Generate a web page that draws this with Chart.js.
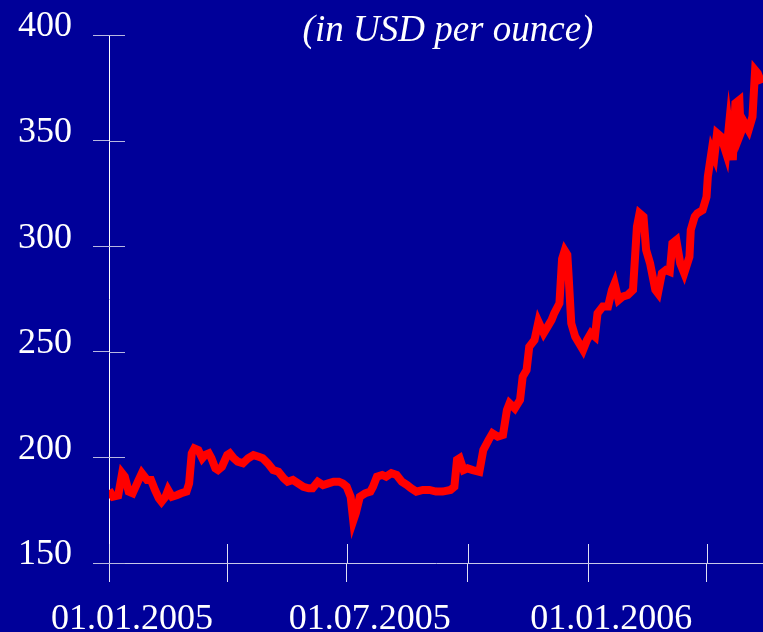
<!DOCTYPE html>
<html>
<head>
<meta charset="utf-8">
<script src="https://cdn.jsdelivr.net/npm/chart.js@4.4.1/dist/chart.umd.min.js"></script>
<style>
  html, body { margin: 0; padding: 0; background: #000099; }
  #wrap { width: 763px; height: 632px; position: relative; }
</style>
</head>
<body>
<div id="wrap"><canvas id="priceChart"></canvas></div>
<script>
// days counted from 01.01.2005
const dayOffsets = [
    0, 3, 7, 10, 12, 15, 18, 22, 25, 29, 32, 35, 38, 40, 43, 45, 48, 52, 55, 59,
    61, 63, 65, 68, 71, 73, 76, 78, 81, 83, 86, 90, 92, 95, 98, 102, 106, 110, 114, 117,
    121, 125, 129, 133, 136, 140, 144, 148, 152, 155, 159, 163, 167, 171, 175, 178, 181, 184, 186, 188,
    191, 195, 199, 201, 204, 208, 211, 215, 219, 223, 227, 230, 234, 239, 244, 249, 254, 260, 263, 265,
    267, 270, 273, 277, 282, 285, 289, 292, 296, 300, 303, 305, 309, 313, 315, 318, 320, 324, 327, 331,
    334, 337, 339, 343, 345, 347, 349, 350, 352, 355, 358, 361, 364, 367, 370, 372, 376, 380, 383, 385,
    388, 391, 395, 399, 402, 404, 407, 409, 412, 416, 418, 421, 424, 427, 429, 432, 435, 438, 442, 443,
    446, 448, 452, 455, 456, 459, 461, 463, 466, 470, 472, 475, 477, 480, 481, 484, 487, 490, 492, 494,
    497
];
const prices = [
    184.6, 181.4, 182.0, 192.5, 190.9, 183.8, 183.0, 188.5, 192.5, 189.3, 189.3, 184.6, 180.6, 179.0, 181.4, 184.6, 181.4, 182.2, 183.0, 183.8,
    187.7, 201.9, 204.3, 203.5, 199.6, 201.1, 201.9, 199.6, 194.8, 194.0, 195.6, 201.1, 201.9, 199.6, 198.0, 197.2, 199.6, 201.1, 200.3, 199.6,
    197.2, 194.0, 193.2, 190.1, 188.5, 189.3, 187.7, 186.1, 185.4, 185.4, 188.5, 186.9, 187.7, 188.5, 188.5, 187.7, 186.1, 181.4, 170.0, 173.7,
    181.4, 183.0, 183.8, 186.1, 190.9, 191.7, 190.9, 192.5, 191.7, 188.5, 186.9, 185.4, 183.8, 184.6, 184.6, 183.8, 183.8, 184.6, 186.1, 198.8,
    199.6, 194.0, 194.8, 194.0, 193.2, 203.5, 208.2, 211.4, 209.8, 210.6, 222.4, 225.6, 223.2, 227.2, 238.2, 241.4, 252.4, 255.6, 264.3, 258.8,
    261.9, 265.1, 268.2, 273.0, 294.0, 298.0, 296.0, 285.6, 263.5, 257.2, 254.0, 250.9, 255.6, 258.8, 257.2, 268.2, 271.4, 271.4, 279.3, 282.4,
    274.5, 276.1, 276.9, 279.3, 309.2, 315.6, 314.0, 298.2, 291.9, 279.3, 277.7, 287.2, 288.7, 287.9, 301.4, 302.9, 291.9, 287.2, 295.0, 307.7,
    314.0, 315.6, 317.1, 323.4, 332.9, 345.5, 342.4, 353.5, 351.9, 344.0, 356.6, 340.8, 367.7, 369.2, 353.5, 358.3, 355.0, 361.3, 383.4, 381.9,
    377.1
];
const tickDays = [0, 90, 181, 273, 365, 455];
const tickLabels = ['01.01.2005', '', '01.07.2005', '', '01.01.2006', ''];
const yTicks = [150, 200, 250, 300, 350, 400];

const bgColor = '#000099';
const lineColor = '#ff0000';
const yTickColor = '#b8b8e0';
const xTickColor = '#e0e0f4';
const serif = '"Liberation Serif", "Times New Roman", serif';

// draws the part of each tick mark that reaches inside the plot
const innerTicks = {
    id: 'innerTicks',
    afterDatasetsDraw(chart) {
        const { ctx, chartArea, scales } = chart;
        ctx.save();
        ctx.lineWidth = 1;
        ctx.strokeStyle = yTickColor;
        scales.y.ticks.forEach(t => {
            const py = Math.round(scales.y.getPixelForValue(t.value)) + 0.5;
            ctx.beginPath();
            ctx.moveTo(chartArea.left, py);
            ctx.lineTo(chartArea.left + 16, py);
            ctx.stroke();
        });
        ctx.strokeStyle = xTickColor;
        scales.x.ticks.forEach(t => {
            const px = Math.round(scales.x.getPixelForValue(t.value)) + 0.5;
            ctx.beginPath();
            ctx.moveTo(px, chartArea.bottom);
            ctx.lineTo(px, chartArea.bottom - 19);
            ctx.stroke();
        });
        ctx.restore();
    }
};

const subtitle = {
    id: 'subtitle',
    afterDraw(chart) {
        const ctx = chart.ctx;
        ctx.save();
        ctx.font = 'italic 37px ' + serif;
        ctx.fillStyle = '#ffffff';
        ctx.textAlign = 'center';
        ctx.textBaseline = 'alphabetic';
        ctx.fillText('(in USD per ounce)', 448, 41);
        ctx.restore();
    }
};

const bgFill = {
    id: 'bgFill',
    beforeDraw(chart) {
        const ctx = chart.ctx;
        ctx.save();
        ctx.fillStyle = bgColor;
        ctx.fillRect(0, 0, chart.width, chart.height);
        ctx.restore();
    }
};

new Chart(document.getElementById('priceChart'), {
    type: 'line',
    data: {
        datasets: [{
            data: dayOffsets.map((d, i) => ({ x: d, y: prices[i] })),
            borderColor: lineColor,
            borderWidth: 8,
            pointRadius: 0,
            tension: 0,
            borderJoinStyle: 'miter'
        }]
    },
    options: {
        responsive: true,
        maintainAspectRatio: false,
        animation: false,
        layout: { padding: { top: 35, right: 0, bottom: 0, left: 0 } },
        plugins: {
            legend: { display: false },
            tooltip: { enabled: false }
        },
        scales: {
            x: {
                type: 'linear',
                min: 0,
                max: 498,
                afterBuildTicks: scale => { scale.ticks = tickDays.map(v => ({ value: v })); },
                afterFit: scale => { scale.height = 69; scale.paddingLeft = 0; scale.paddingRight = 0; },
                border: { display: true, color: '#c8c8e8', width: 1 },
                grid: { drawOnChartArea: false, drawTicks: true, tickLength: 19, color: xTickColor },
                ticks: {
                    autoSkip: false,
                    maxRotation: 0,
                    padding: 16,
                    labelOffset: 23,
                    color: '#ffffff',
                    font: { family: serif, size: 36 },
                    callback: value => tickLabels[tickDays.indexOf(value)] ?? ''
                }
            },
            y: {
                min: 150,
                max: 400,
                afterBuildTicks: scale => { scale.ticks = yTicks.map(v => ({ value: v })); },
                afterFit: scale => { scale.width = 109; scale.paddingTop = 0; scale.paddingBottom = 0; },
                border: { display: true, color: '#ffffff', width: 1 },
                grid: { drawOnChartArea: false, drawTicks: true, tickLength: 16, color: yTickColor },
                ticks: {
                    padding: 21,
                    labelOffset: -8,
                    color: '#ffffff',
                    font: { family: serif, size: 36 }
                }
            }
        }
    },
    plugins: [bgFill, innerTicks, subtitle]
});
</script>
</body>
</html>
